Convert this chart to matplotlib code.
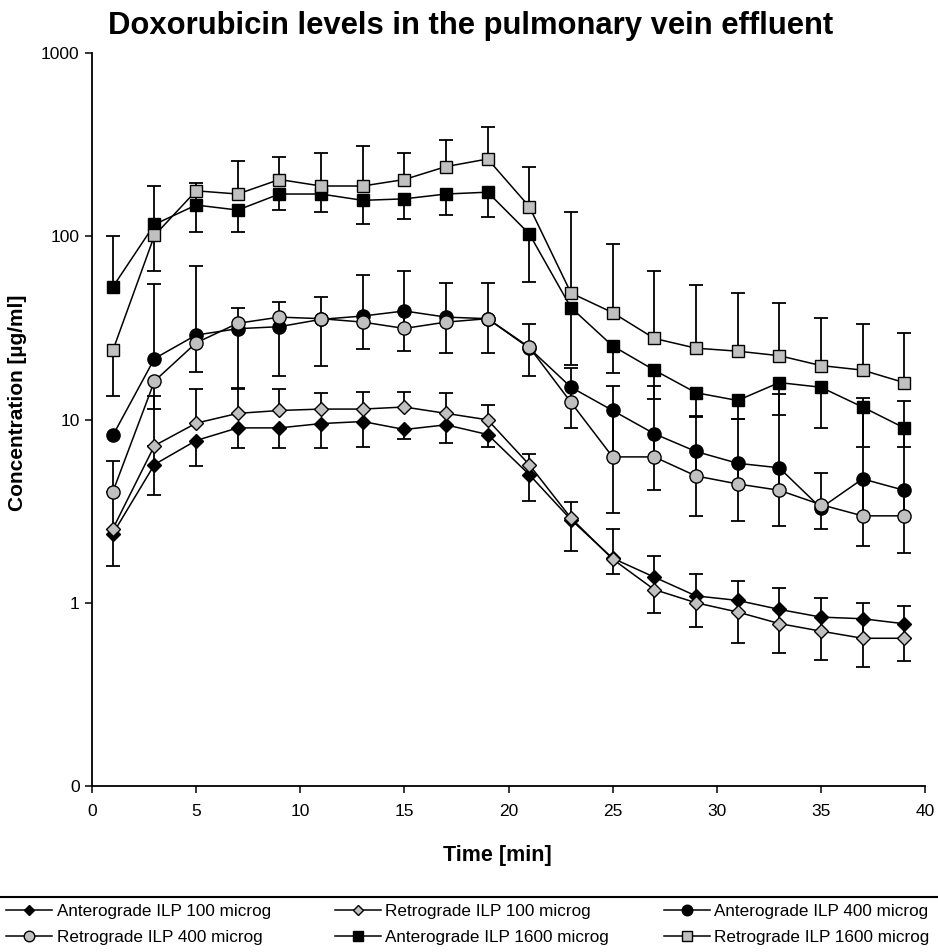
import numpy as np
import matplotlib
matplotlib.use("Agg")
import matplotlib.pyplot as plt
from matplotlib.lines import Line2D
from matplotlib.ticker import FixedLocator, FixedFormatter, NullLocator

plt.rcParams['font.family'] = ['Liberation Sans', 'DejaVu Sans']

# Zeit [min]
time = [1, 3, 5, 7, 9, 11, 13, 15, 17, 19, 21, 23, 25, 27, 29, 31, 33, 35, 37, 39]

# Mittelwerte [µg/ml]
ant100 = [2.38, 5.68, 7.68, 9.0, 9.0, 9.5, 9.75, 8.82, 9.35, 8.28, 5.0, 2.84, 1.75, 1.38, 1.09, 1.03, 0.92, 0.835, 0.818, 0.768]
ret100 = [2.53, 7.2, 9.55, 10.8, 11.2, 11.4, 11.4, 11.7, 10.8, 9.96, 5.66, 2.9, 1.73, 1.18, 1.0, 0.89, 0.77, 0.70, 0.64, 0.64]
ant400 = [8.18, 21.5, 28.9, 31.3, 32.1, 35.2, 36.7, 39.1, 36.2, 35.5, 24.5, 15.0, 11.2, 8.36, 6.69, 5.77, 5.45, 3.29, 4.74, 4.11]
ret400 = [4.03, 16.2, 26.2, 33.5, 36.2, 35.5, 34.0, 31.4, 34.0, 35.5, 24.8, 12.4, 6.25, 6.25, 4.92, 4.45, 4.11, 3.43, 2.98, 2.98]
ant1600 = [52.9, 116, 148, 139, 170, 170, 157, 160, 170, 174, 103, 40.8, 25.2, 18.6, 14.0, 12.7, 15.9, 15.0, 11.7, 9.0]
ret1600 = [23.8, 101, 177, 170, 204, 188, 188, 204, 240, 264, 145, 49, 38.3, 27.7, 24.5, 23.6, 22.3, 19.7, 18.6, 15.9]

# Fehlerbalken (nach oben / nach unten), 0 = keiner
ant100_up = [0, 1.52, 0, 0, 0, 0, 0, 0, 0, 0, 0, 0, 0, 0, 0, 0, 0, 0, 0, 0]
ant100_dn = [0.8, 1.83, 2.1, 2.05, 2.05, 2.55, 2.7, 0.98, 1.9, 1.2, 1.42, 0.93, 0.31, 0.5, 0.35, 0.43, 0.39, 0.35, 0.37, 0.29]
ret100_up = [1.5, 6.3, 5.05, 4.1, 3.4, 2.6, 2.8, 2.5, 3.2, 2.1, 0.86, 0.65, 0.8, 0.61, 0.44, 0.43, 0.43, 0.36, 0.36, 0.32]
ret100_dn = [0] * 20
ant400_up = [0, 33.5, 40, 0, 0, 0, 0, 0, 0, 0, 0, 0, 0, 0, 0, 0, 0, 0, 0, 0]
ant400_dn = [0, 0, 0, 16.6, 14.8, 15.5, 12.6, 15.5, 13.1, 12.4, 7.2, 6.0, 8.1, 4.25, 3.73, 2.96, 2.82, 0.75, 2.7, 2.24]
ret400_up = [1.9, 0, 0, 7.3, 7.8, 11.3, 27.2, 33.2, 21.8, 20.3, 8.5, 6.8, 8.95, 8.95, 5.4, 5.65, 9.6, 1.68, 10.2, 9.7]
ret400_dn = [0, 4.8, 8, 0, 0, 0, 0, 0, 0, 0, 0, 0, 0, 0, 0, 0, 0, 0, 0, 0]
ant1600_up = [47, 72, 47, 0, 0, 0, 0, 0, 0, 0, 0, 0, 0, 0, 0, 0, 0, 0, 0, 0]
ant1600_dn = [0, 0, 43, 34, 31, 34, 41, 36, 39, 46, 47, 21, 7.3, 5.6, 3.6, 2.6, 5.3, 6.0, 4.64, 1.94]
ret1600_up = [0, 0, 0, 89, 65, 98, 123, 82, 96, 133, 94, 87, 52.7, 36.9, 29.5, 25.3, 21.1, 16.3, 14.7, 13.6]
ret1600_dn = [10.3, 36, 0, 0, 0, 0, 0, 0, 0, 0, 0, 0, 0, 0, 0, 0, 0, 0, 0, 0]

labels = ['Anterograde ILP 100 microg', 'Retrograde ILP 100 microg', 'Anterograde ILP 400 microg',
          'Retrograde ILP 400 microg', 'Anterograde ILP 1600 microg', 'Retrograde ILP 1600 microg']

grau = '#c0c0c0'
serien = [
    (ant100, ant100_up, ant100_dn, 'D', 'black', 7),
    (ret100, ret100_up, ret100_dn, 'D', grau, 7),
    (ant400, ant400_up, ant400_dn, 'o', 'black', 9.5),
    (ret400, ret400_up, ret400_dn, 'o', grau, 9.5),
    (ant1600, ant1600_up, ant1600_dn, 's', 'black', 9),
    (ret1600, ret1600_up, ret1600_dn, 's', grau, 9),
]

fig = plt.figure(figsize=(9.38, 9.52), dpi=100)
ax = fig.add_axes([92 / 938, 1 - 786 / 952, 833 / 938, 733 / 952])

t = np.array(time, dtype=float)
handles = []
for i, (werte, up, dn, m, farbe, ms) in enumerate(serien):
    v = np.array(werte, dtype=float)
    up = np.array(up, dtype=float)
    dn = np.array(dn, dtype=float)
    for err, sgn in ((up, 1), (dn, -1)):
        sel = err > 0
        enden = v[sel] + sgn * err[sel]
        ax.vlines(t[sel], v[sel], enden, color='black', lw=1.3, zorder=2)
        ax.plot(t[sel], enden, ls='none', marker='_', ms=10, mew=1.3, color='black', zorder=2)
    h, = ax.plot(t, v, color='black', lw=1.1, marker=m, ms=ms, mfc=farbe, mec='black',
                 mew=1.0, zorder=3 + i, label=labels[i])
    handles.append(h)

ax.set_yscale('log')
ax.set_xlim(0, 40)
ax.set_ylim(0.1, 1000)
ax.yaxis.set_major_locator(FixedLocator([0.1, 1, 10, 100, 1000]))
ax.yaxis.set_major_formatter(FixedFormatter(['0', '1', '10', '100', '1000']))
ax.yaxis.set_minor_locator(NullLocator())
ax.set_xticks([0, 5, 10, 15, 20, 25, 30, 35, 40])
ax.tick_params(axis='both', direction='out', length=5, width=1.1, labelsize=12.5, pad=4)
ax.tick_params(axis='x', pad=8)
for s in ['top', 'right']:
    ax.spines[s].set_visible(False)
for s in ['left', 'bottom']:
    ax.spines[s].set_linewidth(1.3)

ax.set_xlabel('Time [min]', fontsize=15.5, fontweight='bold')
ax.xaxis.set_label_coords(0.487, -0.0805)
ax.set_ylabel('Concentration [µg/ml]', fontsize=15, fontweight='bold')
ax.yaxis.set_label_coords(-0.078, 0.5225)
fig.text(0.502, 1 - 26 / 952, 'Doxorubicin levels in the pulmonary vein effluent',
         ha='center', va='center', fontsize=22.3, fontweight='bold')

# Legende unten, drei Spalten
fig.add_artist(Line2D([0, 1], [1 - 897 / 952] * 2, color='black', lw=1.5))
spalten_x = [0.003, 0.353, 0.704]
for k in range(3):
    leg = fig.legend([handles[k], handles[k + 3]], [labels[k], labels[k + 3]],
                     loc='upper left', bbox_to_anchor=(spalten_x[k], 1 - 901 / 952),
                     frameon=False, fontsize=12.3, handlelength=2.7, handletextpad=0.25,
                     labelspacing=0.6, borderaxespad=0, borderpad=0.2, markerscale=0.8)

fig.savefig('out.png', dpi=100)
